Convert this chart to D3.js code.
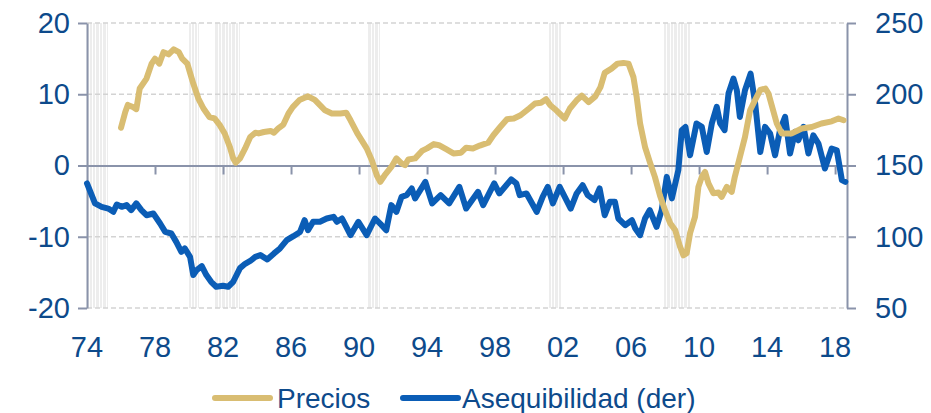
<!DOCTYPE html>
<html>
<head>
<meta charset="utf-8">
<script src="https://cdn.jsdelivr.net/npm/d3@7"></script>
<style>
  body { margin: 0; background: #fff; }
  text { font-family: "Liberation Sans", Arial, sans-serif; fill: #0d4a8b; }
</style>
</head>
<body>
<div id="chart"></div>
<script>
// Precios (eje izq., %) : [año, valor]
const precios = [
  [1976.0, 5.3], [1976.25, 7.5], [1976.4, 8.5], [1976.7, 8.2], [1976.9, 7.9], [1977.1, 10.8],
  [1977.5, 12.2], [1977.8, 14.3], [1978.0, 15.0], [1978.25, 14.3], [1978.5, 15.9], [1978.8, 15.6],
  [1979.1, 16.3], [1979.4, 15.9], [1979.6, 15.0], [1979.9, 14.3], [1980.25, 11.5], [1980.55, 9.4],
  [1980.85, 8.0], [1981.2, 6.8], [1981.5, 6.6], [1981.8, 5.7], [1982.1, 4.5], [1982.4, 2.6],
  [1982.6, 1.0], [1982.75, 0.4], [1983.0, 1.0], [1983.3, 2.4], [1983.6, 4.0], [1983.9, 4.6],
  [1984.1, 4.5], [1984.4, 4.7], [1984.8, 4.85], [1985.0, 4.6], [1985.25, 5.2], [1985.55, 5.75],
  [1985.85, 7.3], [1986.1, 8.2], [1986.5, 9.2], [1986.8, 9.5], [1987.0, 9.7], [1987.4, 9.2],
  [1988.0, 7.75], [1988.4, 7.3], [1988.9, 7.3], [1989.25, 7.4], [1989.5, 6.35], [1989.9, 4.5],
  [1990.45, 2.4], [1990.75, 0.75], [1991.05, -1.4], [1991.25, -2.3], [1991.5, -1.4], [1991.9, -0.2],
  [1992.2, 1.0], [1992.5, 0.3], [1992.7, 0.05], [1992.9, 0.85], [1993.3, 1.0], [1993.7, 2.05],
  [1994.0, 2.4], [1994.4, 3.0], [1994.7, 2.85], [1995.15, 2.25], [1995.55, 1.7], [1996.0, 1.8],
  [1996.3, 2.5], [1996.7, 2.4], [1997.1, 2.8], [1997.6, 3.2], [1997.9, 4.25], [1998.3, 5.4],
  [1998.7, 6.5], [1999.1, 6.6], [1999.5, 7.05], [2000.0, 8.0], [2000.35, 8.7], [2000.7, 8.8],
  [2001.0, 9.3], [2001.25, 8.45], [2001.6, 7.75], [2001.9, 7.05], [2002.1, 6.6], [2002.4, 8.0],
  [2002.8, 9.15], [2003.1, 9.8], [2003.5, 8.9], [2003.9, 9.7], [2004.2, 11.0], [2004.45, 13.0],
  [2004.85, 13.6], [2005.2, 14.3], [2005.55, 14.4], [2005.85, 14.3], [2006.14, 12.4], [2006.33, 9.6],
  [2006.53, 5.9], [2006.82, 2.6], [2007.1, 0.5], [2007.4, -1.6], [2007.7, -4.2], [2008.0, -6.3],
  [2008.3, -8.1], [2008.6, -9.1], [2008.88, -11.4], [2009.08, -12.6], [2009.27, -12.3], [2009.47, -9.5],
  [2009.76, -7.2], [2009.96, -3.0], [2010.16, -1.6], [2010.35, -0.9], [2010.55, -2.5], [2010.84, -3.9],
  [2011.14, -3.8], [2011.33, -4.4], [2011.63, -3.0], [2011.92, -3.7], [2012.1, -1.6], [2012.4, 1.2],
  [2012.7, 4.0], [2013.0, 7.75], [2013.3, 9.2], [2013.6, 10.6], [2013.9, 10.8], [2014.08, 10.1],
  [2014.3, 8.2], [2014.57, 5.9], [2014.86, 4.5], [2015.45, 4.5], [2016.04, 5.2], [2016.63, 5.4],
  [2017.2, 5.9], [2017.8, 6.2], [2018.2, 6.6], [2018.5, 6.35]
];

// Asequibilidad (eje der.) : [año, valor]
const asequibilidad = [
  [1974.0, 137.4], [1974.2, 131.5], [1974.47, 123.4], [1974.86, 121], [1975.25, 119.8], [1975.55, 117.5],
  [1975.75, 122.6], [1976.04, 121], [1976.33, 122.2], [1976.6, 118.7], [1976.9, 123.4], [1977.2, 118.7],
  [1977.5, 115.1], [1977.9, 116.3], [1978.3, 109.3], [1978.6, 103.4], [1978.96, 102.3], [1979.25, 96.4],
  [1979.55, 89.4], [1979.75, 91.8], [1980.06, 85.9], [1980.25, 73.1], [1980.45, 76.6], [1980.75, 79.4],
  [1981.02, 73.1], [1981.3, 68.4], [1981.6, 64.9], [1982.0, 65.6], [1982.3, 64.9], [1982.6, 68.4],
  [1983.0, 78], [1983.3, 81], [1983.6, 83], [1983.9, 85.9], [1984.2, 87.1], [1984.6, 84.1],
  [1985.0, 88.3], [1985.35, 91.8], [1985.75, 97.6], [1986.14, 100.4], [1986.53, 103.4], [1986.8, 111.6],
  [1987.0, 104.6], [1987.3, 110.5], [1987.7, 110.5], [1988.1, 112.8], [1988.5, 114], [1988.7, 110.5],
  [1989.0, 112.8], [1989.2, 108.1], [1989.5, 101.1], [1989.96, 110.5], [1990.45, 101.1], [1990.94, 112.8],
  [1991.33, 108.1], [1991.6, 104.6], [1991.9, 122.2], [1992.2, 117.5], [1992.5, 128], [1992.8, 129.2],
  [1993.1, 133.9], [1993.3, 126.9], [1993.9, 138.5], [1994.3, 123.4], [1994.8, 129.2], [1995.3, 123.4],
  [1995.9, 135], [1996.3, 119.8], [1997.0, 131.5], [1997.3, 122.2], [1997.95, 137.4], [1998.25, 130.4],
  [1998.95, 140.2], [1999.25, 137.4], [1999.45, 129.2], [1999.85, 130.4], [2000.45, 117.5], [2000.8, 128],
  [2001.1, 135], [2001.4, 123.4], [2001.8, 135], [2002.1, 128], [2002.45, 119.8], [2002.8, 130.4],
  [2003.15, 136.2], [2003.45, 129.2], [2003.85, 125.7], [2004.15, 133.9], [2004.45, 115.1], [2004.75, 124.5],
  [2005.05, 124.5], [2005.25, 112.8], [2005.65, 108.1], [2006.05, 111.6], [2006.25, 105.8], [2006.53, 101.1],
  [2006.82, 112.8], [2007.1, 118.7], [2007.5, 107], [2007.8, 118.7], [2008.1, 142], [2008.4, 126.9],
  [2008.78, 146.7], [2008.98, 174.8], [2009.2, 177.1], [2009.47, 157.2], [2009.85, 179.5], [2010.16, 177.1],
  [2010.45, 159.5], [2010.75, 179.5], [2011.04, 191.1], [2011.24, 179.5], [2011.5, 174.8], [2011.73, 200.5],
  [2012.02, 211], [2012.22, 202.8], [2012.4, 184.1], [2012.7, 202.8], [2013.03, 214.5], [2013.3, 193.5],
  [2013.6, 159.5], [2013.88, 177.1], [2014.18, 172.4], [2014.47, 157.2], [2014.76, 174.8], [2015.06, 184.1],
  [2015.35, 158.4], [2015.65, 173.6], [2015.84, 167.7], [2016.14, 177.1], [2016.43, 158.4], [2016.72, 171.2],
  [2017.02, 165.4], [2017.4, 147.9], [2017.8, 161.9], [2018.1, 160.7], [2018.4, 139.7], [2018.6, 138.5]
];

// recesiones (sombreado)
const recesiones = [
  [1974.0, 1975.25], [1980.0, 1980.58], [1981.5, 1982.92],
  [1990.5, 1991.25], [2001.17, 2001.92], [2007.92, 2009.5]
];

const leftTicks = [20, 10, 0, -10, -20];
const rightTicks = [250, 200, 150, 100, 50];
const xTicks = [1974, 1978, 1982, 1986, 1990, 1994, 1998, 2002, 2006, 2010, 2014, 2018];
const seriesNames = ["Precios", "Asequibilidad (der)"];
const colors = ["#d9bd72", "#0b5db6"];

const width = 931, height = 413;
const margin = { top: 23, right: 84, bottom: 105, left: 87 };
const axisColor = "#8a93aa";

const x = d3.scaleLinear().domain([1974, 2018.7]).range([margin.left, width - margin.right]);
const yL = d3.scaleLinear().domain([-20, 20]).range([height - margin.bottom, margin.top]);
const yR = d3.scaleLinear().domain([50, 250]).range([height - margin.bottom, margin.top]);

const svg = d3.select("#chart").append("svg")
  .attr("width", width)
  .attr("height", height);

// recession stripes, one thin line per month
recesiones.forEach(r => {
  const months = d3.range(r[0], r[1], 1 / 12);
  svg.append("g").selectAll("line")
    .data(months)
    .enter()
    .append("line")
    .attr("x1", d => Math.round(x(d)) + 0.5)
    .attr("x2", d => Math.round(x(d)) + 0.5)
    .attr("y1", yL(20))
    .attr("y2", yL(-20))
    .style("stroke", "#ededed")
    .style("stroke-width", 1);
});

// dashed gridlines
svg.append("g").selectAll("line")
  .data(leftTicks.filter(d => d !== 0))
  .enter()
  .append("line")
  .attr("x1", x.range()[0])
  .attr("x2", x.range()[1])
  .attr("y1", d => yL(d))
  .attr("y2", d => yL(d))
  .style("stroke", "#d3d3d3")
  .style("stroke-width", 1.5)
  .style("stroke-dasharray", "5,3");

// hyphen instead of unicode minus, like the source
const plain = d => String(d);

// left axis
const leftAxis = svg.append("g")
  .attr("transform", "translate(" + margin.left + ",0)")
  .call(d3.axisLeft(yL).tickValues(leftTicks).tickFormat(plain).tickSize(9).tickSizeOuter(0).tickPadding(8));

// right axis
const rightAxis = svg.append("g")
  .attr("transform", "translate(" + (width - margin.right) + ",0)")
  .call(d3.axisRight(yR).tickValues(rightTicks).tickFormat(plain).tickSize(9).tickSizeOuter(0).tickPadding(19));

// x axis on the zero line
const xAxis = svg.append("g")
  .attr("transform", "translate(0," + yL(0) + ")")
  .call(d3.axisBottom(x).tickValues(xTicks.slice(1)).tickSize(9).tickSizeOuter(0).tickFormat(""));

[leftAxis, rightAxis, xAxis].forEach(g => {
  g.selectAll(".domain, line").style("stroke", axisColor).style("stroke-width", 2);
  g.selectAll("text").style("font-size", "29px").style("fill", "#0d4a8b");
});

// year labels along the bottom
svg.append("g").selectAll("text")
  .data(xTicks)
  .enter()
  .append("text")
  .attr("x", d => x(d))
  .attr("y", 357)
  .attr("text-anchor", "middle")
  .style("font-size", "29px")
  .text(d => d3.format("02")(d % 100));

// series lines
const linePrecios = d3.line()
  .x(d => x(d[0]))
  .y(d => yL(d[1]));

const lineAseq = d3.line()
  .x(d => x(d[0]))
  .y(d => yR(d[1]));

svg.append("path")
  .datum(asequibilidad)
  .attr("d", lineAseq)
  .style("fill", "none")
  .style("stroke", colors[1])
  .style("stroke-width", 6)
  .style("stroke-linejoin", "round")
  .style("stroke-linecap", "round");

svg.append("path")
  .datum(precios)
  .attr("d", linePrecios)
  .style("fill", "none")
  .style("stroke", colors[0])
  .style("stroke-width", 6)
  .style("stroke-linejoin", "round")
  .style("stroke-linecap", "round");

// legend
const legendX = [215, 403];
const legend = svg.append("g").selectAll("g")
  .data(seriesNames)
  .enter()
  .append("g")
  .attr("transform", (d, i) => "translate(" + legendX[i] + ",398)");

legend.append("line")
  .attr("x1", 0)
  .attr("x2", 55)
  .style("stroke", (d, i) => colors[i])
  .style("stroke-width", 6)
  .style("stroke-linecap", "round");

legend.append("text")
  .attr("x", (d, i) => i === 0 ? 62 : 59)
  .attr("y", 10)
  .style("font-size", "28px")
  .style("fill", "#0d4a8b")
  .text(d => d);
</script>
</body>
</html>
